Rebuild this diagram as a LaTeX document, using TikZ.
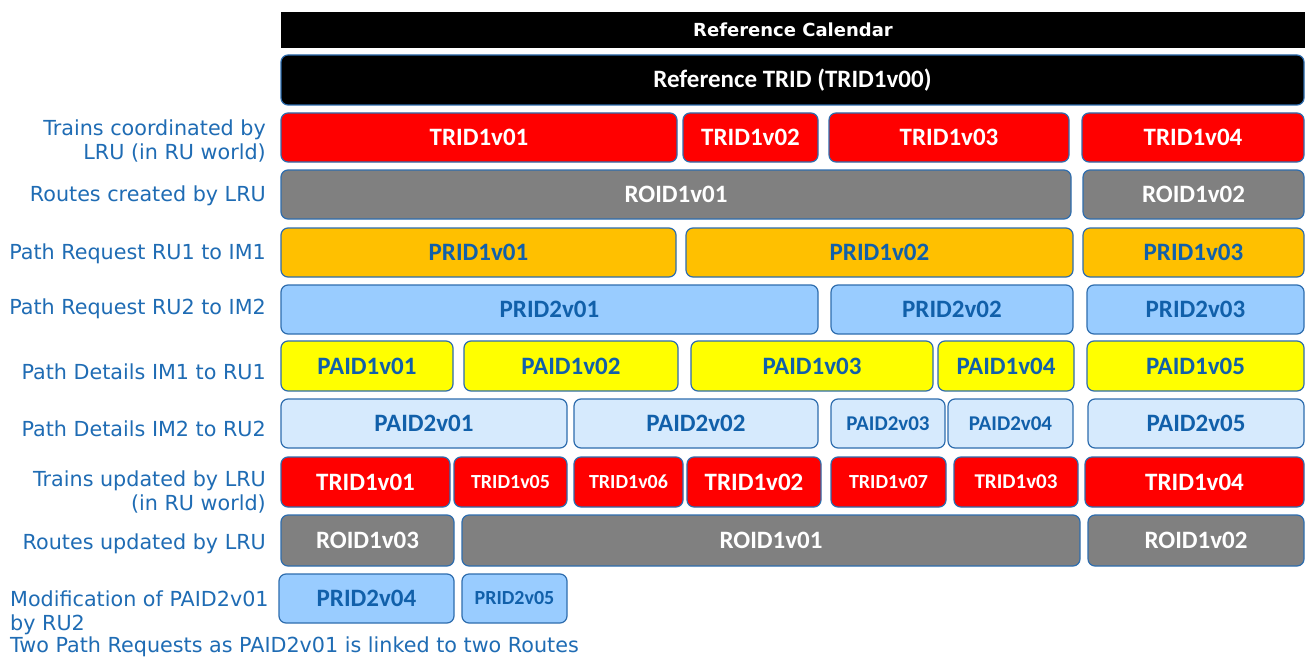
\documentclass[tikz,border=0pt]{standalone}
\usepackage{fontspec}
\setmainfont{DejaVu Sans}
\newfontfamily\boxfont{Carlito}
\definecolor{lbl}{HTML}{1F6CB4}
\definecolor{bdr}{HTML}{2E6DAE}
\definecolor{btxt}{HTML}{1160AA}
\definecolor{cred}{HTML}{FF0000}
\definecolor{cgrey}{HTML}{808080}
\definecolor{corange}{HTML}{FFC000}
\definecolor{cblue}{HTML}{99CCFF}
\definecolor{cyellow}{HTML}{FFFF00}
\definecolor{cpale}{HTML}{D6EAFD}
\tikzset{
  box/.style={draw=bdr, line width=1.2pt, rounded corners=7pt, inner sep=0pt, outer sep=0pt, align=center,
     font=\boxfont\bfseries\fontsize{25}{28}\selectfont},
  small/.style={font=\boxfont\bfseries\fontsize{20}{24}\selectfont},
  mid/.style={font=\boxfont\bfseries\fontsize{21}{24}\selectfont},
  redb/.style={box, fill=cred, text=white},
  greyb/.style={box, fill=cgrey, text=white},
  orangeb/.style={box, fill=corange, text=btxt},
  blueb/.style={box, fill=cblue, text=btxt},
  yellowb/.style={box, fill=cyellow, text=btxt},
  paleb/.style={box, fill=cpale, text=btxt},
  blackb/.style={box, fill=black, text=white},
  lab/.style={text=lbl, font=\fontsize{20.7}{24}\selectfont, inner sep=0pt, anchor=east, align=right},
  labl/.style={text=lbl, font=\fontsize{20.7}{24}\selectfont, inner sep=0pt, anchor=west, align=left},
}
% \bx{name}{x1}{y1}{x2}{y2}{style}{text}
\newcommand{\bx}[7]{\node[#6, minimum width={(#4)-(#2)}, minimum height={(#5)-(#3)}] (#1) at ({((#2)+(#4))/2},{((#3)+(#5))/2}) {#7};}
\begin{document}
\begin{tikzpicture}[x=1pt,y=-1pt]
\useasboundingbox[fill=white] (0,0) rectangle (1305,658);
% header
\node[fill=black, text=white, inner sep=0pt, minimum width=1024, minimum height=36,
  font=\bfseries\fontsize{18}{20}\selectfont] (cal) at (793,30) {Reference Calendar};
\bx{rt}{281}{55}{1304}{105}{blackb}{Reference TRID (TRID1v00)}
% row 2
\bx{a1}{281}{113}{677}{162}{redb}{TRID1v01}
\bx{a2}{683}{113}{818}{162}{redb}{TRID1v02}
\bx{a3}{829}{113}{1069}{162}{redb}{TRID1v03}
\bx{a4}{1082}{113}{1304}{162}{redb}{TRID1v04}
% row 3
\bx{b1}{281}{170}{1071}{219}{greyb}{ROID1v01}
\bx{b2}{1083}{170}{1304}{219}{greyb}{ROID1v02}
% row 4
\bx{c1}{281}{228}{676}{277}{orangeb}{PRID1v01}
\bx{c2}{686}{228}{1073}{277}{orangeb}{PRID1v02}
\bx{c3}{1083}{228}{1304}{277}{orangeb}{PRID1v03}
% row 5
\bx{d1}{281}{285}{818}{334}{blueb}{PRID2v01}
\bx{d2}{831}{285}{1073}{334}{blueb}{PRID2v02}
\bx{d3}{1087}{285}{1304}{334}{blueb}{PRID2v03}
% row 6
\bx{e1}{281}{341}{453}{391}{yellowb}{PAID1v01}
\bx{e2}{464}{341}{678}{391}{yellowb}{PAID1v02}
\bx{e3}{691}{341}{933}{391}{yellowb}{PAID1v03}
\bx{e4}{938}{341}{1074}{391}{yellowb}{PAID1v04}
\bx{e5}{1087}{341}{1304}{391}{yellowb}{PAID1v05}
% row 7
\bx{f1}{281}{399}{567}{448}{paleb}{PAID2v01}
\bx{f2}{574}{399}{818}{448}{paleb}{PAID2v02}
\bx{f3}{831}{399}{945}{448}{paleb,mid}{PAID2v03}
\bx{f4}{948}{399}{1073}{448}{paleb,mid}{PAID2v04}
\bx{f5}{1088}{399}{1304}{448}{paleb}{PAID2v05}
% row 8
\bx{g1}{281}{457}{450}{507}{redb}{TRID1v01}
\bx{g2}{454}{457}{567}{507}{redb,small}{TRID1v05}
\bx{g3}{574}{457}{683}{507}{redb,small}{TRID1v06}
\bx{g4}{687}{457}{821}{507}{redb}{TRID1v02}
\bx{g5}{831}{457}{946}{507}{redb,small}{TRID1v07}
\bx{g6}{954}{457}{1078}{507}{redb,mid}{TRID1v03}
\bx{g7}{1085}{457}{1304}{507}{redb}{TRID1v04}
% row 9
\bx{h1}{281}{515}{454}{566}{greyb}{ROID1v03}
\bx{h2}{462}{515}{1080}{566}{greyb}{ROID1v01}
\bx{h3}{1088}{515}{1304}{566}{greyb}{ROID1v02}
% row 10
\bx{i1}{279}{574}{454}{623}{blueb}{PRID2v04}
\bx{i2}{462}{574}{567}{623}{blueb,small}{PRID2v05}
% labels
\node[lab] (l1) at (266,141) {Trains coordinated by\\LRU (in RU world)};
\node[lab] (l2) at (266,196) {Routes created by LRU};
\node[lab] (l3) at (266,254) {Path Request RU1 to IM1};
\node[lab] (l4) at (266,309) {Path Request RU2 to IM2};
\node[lab] (l5) at (266,372) {Path Details IM1 to RU1};
\node[lab] (l6) at (266,429) {Path Details IM2 to RU2};
\node[lab] (l7) at (266,492) {Trains updated by LRU\\(in RU world)};
\node[lab] (l8) at (266,544) {Routes updated by LRU};
\node[labl] (l9) at (10,613) {Modification of PAID2v01\\by RU2};
\node[labl] (l10) at (10,647) {Two Path Requests as PAID2v01 is linked to two Routes};
\end{tikzpicture}
\end{document}
